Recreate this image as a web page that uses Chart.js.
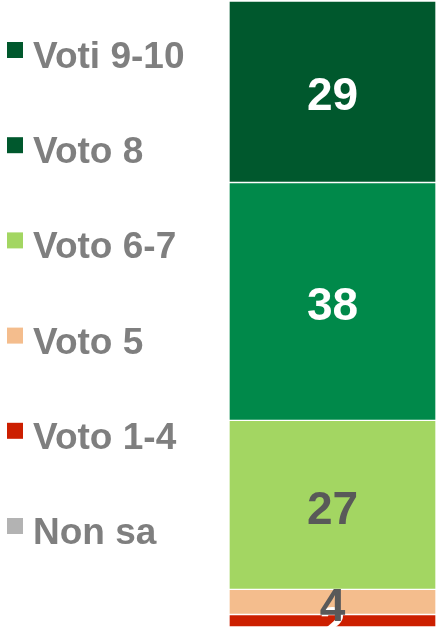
<!DOCTYPE html>
<html>
<head>
<meta charset="utf-8">
<script src="https://cdn.jsdelivr.net/npm/chart.js@4/dist/chart.umd.min.js"></script>
<style>
  html, body { margin: 0; padding: 0; background: #fff; overflow: hidden; }
  #wrap { position: relative; width: 436px; height: 627px; }
</style>
</head>
<body>
<div id="wrap"><canvas id="votiChart"></canvas></div>
<script>
// ===== Dati =====
const categories = ["Totale"];
const seriesNames = ["Voti 9-10", "Voto 8", "Voto 6-7", "Voto 5", "Voto 1-4", "Non sa"];
const seriesValues = [29, 38, 27, 4, 2, 0];
const barColors = ["#00582d", "#00894a", "#a3d662", "#f4bd8d", "#cc1f00", "#b3b3b3"];
const legendColors = ["#00582d", "#00582d", "#a3d662", "#f4bd8d", "#cc1f00", "#b3b3b3"];
const labelColors = ["#ffffff", "#ffffff", "#595959", "#595959", "#ffffff", "#595959"];

// Chart.js stacks from the bottom: reverse so "Voti 9-10" ends on top
const datasets = seriesNames.map((name, i) => ({
  label: name,
  data: [seriesValues[i]],
  backgroundColor: barColors[i],
  borderColor: "#ffffff",
  borderWidth: 1,
  borderSkipped: false,
})).reverse();

// ===== Legenda a sinistra =====
const sideLegend = {
  id: "sideLegend",
  afterDraw(chart) {
    const ctx = chart.ctx;
    ctx.save();
    ctx.font = "bold 37px 'Liberation Sans', Arial, sans-serif";
    ctx.textBaseline = "alphabetic";
    ctx.textAlign = "left";
    seriesNames.forEach((name, i) => {
      const cy = 50 + i * 95.2;
      ctx.fillStyle = legendColors[i];
      ctx.fillRect(7, cy - 8, 16, 16);
      ctx.fillStyle = "#7f7f7f";
      ctx.fillText(name, 33, cy + 18);
    });
    ctx.restore();
  },
};

// ===== Etichette dei valori =====
const valueLabels = {
  id: "valueLabels",
  afterDatasetsDraw(chart) {
    const ctx = chart.ctx;
    ctx.save();
    ctx.font = "bold 46px 'Liberation Sans', Arial, sans-serif";
    ctx.textAlign = "center";
    ctx.textBaseline = "middle";
    chart.data.datasets.forEach((ds, di) => {
      const meta = chart.getDatasetMeta(di);
      const v = ds.data[0];
      if (!v) return;
      const el = meta.data[0];
      const p = el.getCenterPoint();
      const idx = seriesNames.indexOf(ds.label);
      ctx.fillStyle = labelColors[idx];
      ctx.fillText(String(v), p.x, p.y + 6);
    });
    ctx.restore();
  },
};

new Chart(document.getElementById("votiChart"), {
  type: "bar",
  data: { labels: categories, datasets: datasets },
  options: {
    responsive: true,
    maintainAspectRatio: false,
    animation: false,
    layout: { padding: { left: 229, top: 1, right: 0, bottom: 0 } },
    plugins: {
      legend: { display: false },
      tooltip: { enabled: false },
    },
    datasets: { bar: { barPercentage: 1, categoryPercentage: 1 } },
    scales: {
      x: { stacked: true, display: false },
      y: { stacked: true, display: false, min: 0, max: 100 },
    },
  },
  plugins: [valueLabels, sideLegend],
});
</script>
</body>
</html>
